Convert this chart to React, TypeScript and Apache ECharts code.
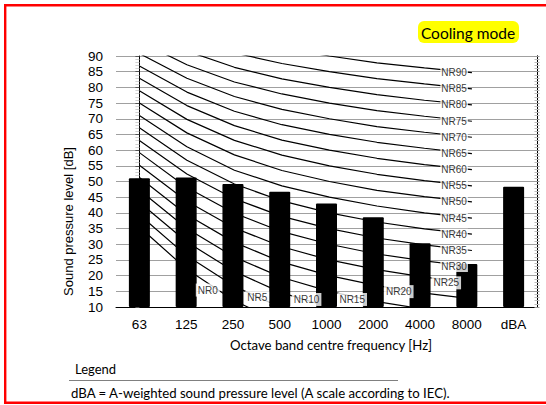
import React, { useEffect, useRef } from "react";
import * as echarts from "echarts";

// Octave band categories
const bands = ["63", "125", "250", "500", "1000", "2000", "4000", "8000", "dBA"];
// Measured sound pressure level per band [dB]
const soundLevels = [51.0, 51.3, 49.2, 46.7, 43.0, 38.6, 30.3, 23.7, 48.3];

// Y axis range / ticks
const yMin = 10;
const yMax = 90;
const yStep = 5;

// NR curve levels and their values at 63..8000 Hz
const nrLevels = [0, 5, 10, 15, 20, 25, 30, 35, 40, 45, 50, 55, 60, 65, 70, 75, 80, 85, 90];
const nrTable: number[][] = [
  [35.5, 22.0, 12.0, 4.8, 0.0, -3.5, -6.1, -8.0],
  [39.4, 26.3, 16.6, 9.7, 5.0, 1.6, -1.0, -2.8],
  [43.4, 30.7, 21.3, 14.5, 10.0, 6.6, 4.2, 2.3],
  [47.3, 35.0, 25.9, 19.4, 15.0, 11.7, 9.3, 7.4],
  [51.3, 39.4, 30.6, 24.3, 20.0, 16.8, 14.4, 12.6],
  [55.2, 43.7, 35.2, 29.2, 25.0, 21.9, 19.5, 17.7],
  [59.2, 48.1, 39.9, 34.0, 30.0, 26.9, 24.7, 22.9],
  [63.1, 52.4, 44.5, 38.9, 35.0, 32.0, 29.8, 28.0],
  [67.1, 56.8, 49.2, 43.8, 40.0, 37.1, 34.9, 33.2],
  [71.0, 61.1, 53.6, 48.6, 45.0, 42.2, 40.0, 38.3],
  [75.0, 65.5, 58.5, 53.5, 50.0, 47.2, 45.2, 43.5],
  [78.9, 69.8, 63.1, 58.4, 55.0, 52.3, 50.3, 48.6],
  [82.9, 74.2, 67.8, 63.2, 60.0, 57.4, 55.4, 53.8],
  [86.8, 78.5, 72.4, 68.1, 65.0, 62.5, 60.6, 58.9],
  [90.8, 82.9, 77.1, 73.0, 70.0, 67.5, 65.7, 64.1],
  [94.7, 87.2, 81.7, 77.9, 75.0, 72.6, 70.8, 69.2],
  [98.7, 91.6, 86.4, 82.7, 80.0, 77.7, 75.9, 74.4],
  [102.6, 95.9, 91.0, 87.6, 85.0, 82.8, 81.1, 79.5],
  [106.6, 100.3, 95.7, 92.5, 90.0, 87.8, 86.2, 84.7],
];

// Where the labels of the low NR curves sit (band position, dB)
const lowLabelNr = [0, 5, 10, 15, 20, 25];
const lowLabelBand = [1.44, 2.48, 3.52, 4.48, 5.46, 6.46];
const lowLabelDb = [15.4, 13.0, 12.4, 12.4, 14.9, 17.7];

const AXIS_FONT = "Liberation Sans, Arial, sans-serif";
const NOTE_FONT = "Lato, Carlito, Calibri, sans-serif";

export default function App() {
  const ref = useRef<HTMLDivElement>(null);

  useEffect(() => {
    if (!ref.current) return;
    const chart = echarts.init(ref.current, undefined, { renderer: "svg" });

    const nrLabelStyle = {
      show: true,
      fontSize: 10,
      fontFamily: AXIS_FONT,
      color: "#000",
      backgroundColor: "#fff",
      padding: [1, 1, 0, 1],
    };

    const lineSeries = nrLevels.map((nr, k) => ({
      type: "line",
      name: "NR" + nr,
      xAxisIndex: 1,
      yAxisIndex: 0,
      data: nrTable[k].map((v, i) => [i, v]),
      showSymbol: false,
      symbol: "none",
      smooth: false,
      clip: true,
      z: 3,
      lineStyle: { color: "#000", width: 1.2 },
      silent: true,
    }));

    const labelData: any[] = [];
    nrLevels.forEach((nr, k) => {
      const li = lowLabelNr.indexOf(nr);
      if (li >= 0) {
        labelData.push({
          value: [lowLabelBand[li], lowLabelDb[li]],
          name: "NR" + nr,
          label: { ...nrLabelStyle, position: "inside", formatter: "{b}", padding: [2, 2, 1, 2] },
        });
      } else {
        labelData.push({
          value: [7, nrTable[k][7]],
          name: "NR" + nr,
          label: { ...nrLabelStyle, position: "left", distance: 4, formatter: "{b}" },
        });
      }
    });

    const option: any = {
      animation: false,
      grid: { left: 116, right: 9, top: 56, bottom: 98, containLabel: false },
      xAxis: [
        {
          type: "category",
          data: bands,
          boundaryGap: true,
          axisLine: { show: true, lineStyle: { color: "#000", width: 1 } },
          axisTick: { show: false },
          axisLabel: {
            color: "#000",
            fontSize: 13.5,
            fontFamily: AXIS_FONT,
            margin: 10,
            interval: 0,
          },
          splitLine: { show: false },
        },
        {
          type: "value",
          min: -0.4925,
          max: 8.37,
          show: false,
          splitLine: { show: false },
        },
      ],
      yAxis: [
        {
          type: "value",
          min: yMin,
          max: yMax,
          interval: yStep,
          position: "left",
          axisLine: { show: true, lineStyle: { color: "#000", width: 1 } },
          axisTick: { show: true, length: 4, lineStyle: { color: "#555" } },
          minorTick: { show: true, splitNumber: 5, length: 4, lineStyle: { color: "#d0d0d0" } },
          axisLabel: {
            color: "#000",
            fontSize: 13.5,
            fontFamily: AXIS_FONT,
            margin: 13,
          },
          splitLine: { show: true, lineStyle: { color: "#a0a0a0", width: 1 } },
        },
        {
          type: "value",
          min: yMin,
          max: yMax,
          interval: yStep,
          position: "right",
          axisLine: { show: true, lineStyle: { color: "#000", width: 1 } },
          axisTick: { show: true, inside: false, length: 2.5, lineStyle: { color: "#999" } },
          minorTick: { show: true, splitNumber: 5, length: 2.5, lineStyle: { color: "#bbb" } },
          axisLabel: { show: false },
          splitLine: { show: false },
        },
        {
          type: "value",
          min: yMin,
          max: yMax,
          interval: yStep,
          position: "right",
          axisLine: { show: true, lineStyle: { color: "#000", width: 1 } },
          axisTick: { show: true, inside: true, length: 2.5, lineStyle: { color: "#999" } },
          minorTick: { show: true, splitNumber: 5, length: 2.5, lineStyle: { color: "#bbb" } },
          axisLabel: { show: false },
          splitLine: { show: false },
        },
      ],
      series: [
        {
          type: "bar",
          name: "Sound pressure level",
          xAxisIndex: 0,
          yAxisIndex: 0,
          data: soundLevels,
          barWidth: 21,
          z: 2,
          itemStyle: { color: "#000", borderRadius: 1 },
          silent: true,
        },
        ...lineSeries,
        {
          type: "scatter",
          name: "NR labels",
          xAxisIndex: 1,
          yAxisIndex: 0,
          symbolSize: 0,
          data: labelData,
          z: 10,
          silent: true,
        },
      ],
      graphic: [
        {
          type: "rect",
          shape: { x: 5.2, y: 5.2, width: 620, height: 397.5 },
          style: { fill: "none", stroke: "#ff0000", lineWidth: 2.4 },
          silent: true,
        },
        {
          type: "rect",
          shape: { x: 418, y: 21, width: 101, height: 22, r: 6 },
          style: { fill: "#ffff00" },
        },
        {
          type: "text",
          x: 468,
          y: 33,
          style: {
            text: "Cooling mode",
            fill: "#000",
            font: "15.5px " + NOTE_FONT,
            align: "center",
            verticalAlign: "middle",
          },
        },
        {
          type: "text",
          x: 68,
          y: 221.5,
          rotation: Math.PI / 2,
          style: {
            text: "Sound pressure level [dB]",
            fill: "#000",
            font: "13px " + AXIS_FONT,
            align: "center",
            verticalAlign: "middle",
          },
        },
        {
          type: "text",
          x: 331,
          y: 345,
          style: {
            text: "Octave band centre frequency [Hz]",
            fill: "#000",
            font: "13.2px " + NOTE_FONT,
            align: "center",
            verticalAlign: "middle",
          },
        },
        {
          type: "text",
          x: 75,
          y: 369,
          style: {
            text: "Legend",
            fill: "#000",
            font: "13px " + NOTE_FONT,
            align: "left",
            verticalAlign: "middle",
          },
        },
        {
          type: "line",
          shape: { x1: 69, y1: 380.5, x2: 398, y2: 380.5 },
          style: { stroke: "#808080", lineWidth: 1 },
        },
        {
          type: "text",
          x: 71,
          y: 393,
          style: {
            text: "dBA = A-weighted sound pressure level (A scale according to IEC).",
            fill: "#000",
            font: "13.2px " + NOTE_FONT,
            align: "left",
            verticalAlign: "middle",
          },
        },
      ],
    };

    chart.setOption(option);
    return () => chart.dispose();
  }, []);

  return <div ref={ref} style={{ width: 546, height: 405, position: "absolute", left: 0, top: 0 }} />;
}
